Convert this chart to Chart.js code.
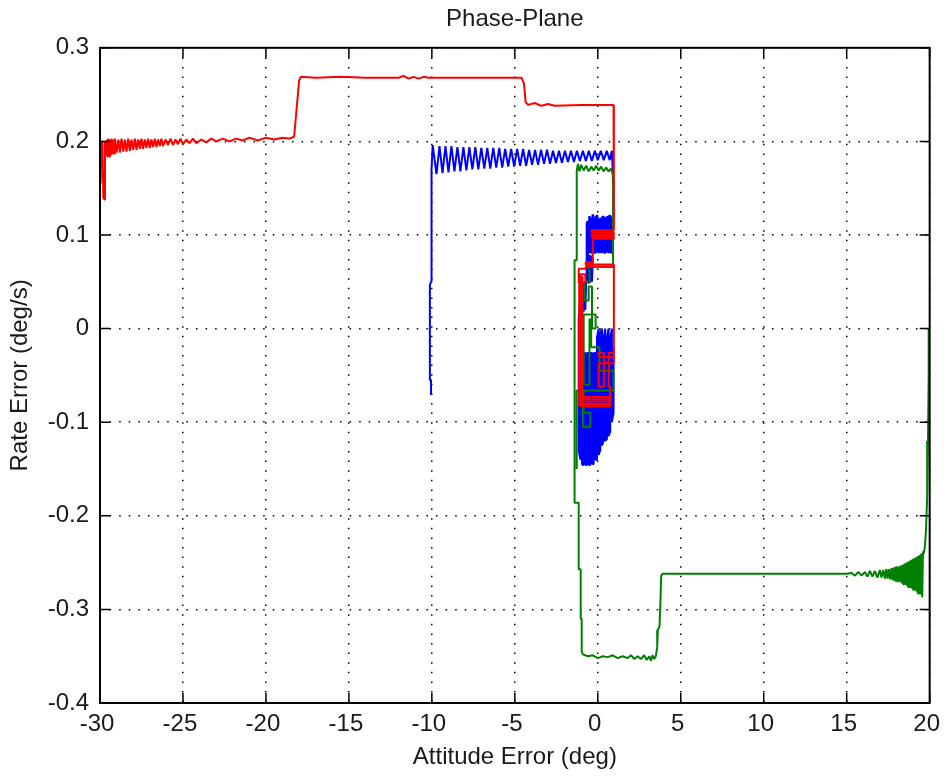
<!DOCTYPE html>
<html>
<head>
<meta charset="utf-8">
<script src="https://cdn.jsdelivr.net/npm/chart.js@4/dist/chart.umd.min.js"></script>
<style>
  html, body { margin: 0; padding: 0; background: #fff; }
  #wrap { width: 950px; height: 778px; }
</style>
</head>
<body>
<div id="wrap"><canvas id="phase" width="950" height="778"></canvas></div>
<script>
// axis limits / ticks
const xRange = [-30, 20]
const yRange = [-0.4, 0.3]
const xStep = 5
const yStep = 0.1

// [attitude error (deg), rate error (deg/s)]
const redPts = [
  [-29.98,0.2],[-29.96,0.155],[-29.93,0.2],[-29.85,0.2],[-29.8,0.14],[-29.75,0.138],[-29.7,0.2],
  [-29.65,0.185],[-29.6,0.202],[-29.55,0.183],[-29.5,0.203],[-29.45,0.184],[-29.4,0.202],[-29.35,0.185],
  [-29.3,0.203],[-29.25,0.186],[-29.2,0.202],[-29.15,0.187],[-29.1,0.203],[-29.0,0.188],[-28.9,0.202],
  [-28.8,0.188],[-28.7,0.203],[-28.6,0.189],[-28.5,0.202],[-28.4,0.189],[-28.3,0.203],[-28.2,0.19],
  [-28.1,0.202],[-28.0,0.191],[-27.9,0.203],[-27.8,0.191],[-27.7,0.202],[-27.6,0.192],[-27.5,0.203],
  [-27.4,0.192],[-27.3,0.202],[-27.2,0.193],[-27.1,0.203],[-27.0,0.193],[-26.9,0.202],[-26.8,0.194],
  [-26.7,0.203],[-26.6,0.194],[-26.5,0.202],[-26.4,0.195],[-26.3,0.203],[-26.2,0.195],[-26.05,0.202],
  [-25.9,0.196],[-25.75,0.203],[-25.6,0.196],[-25.45,0.202],[-25.3,0.197],[-25.15,0.203],[-25.0,0.197],
  [-24.8,0.202],[-24.6,0.198],[-24.4,0.203],[-24.2,0.198],[-23.9,0.202],[-23.6,0.199],[-23.3,0.203],
  [-23.0,0.2],[-22.6,0.203],[-22.2,0.2],[-21.8,0.203],[-21.4,0.201],[-21.0,0.204],[-20.5,0.201],
  [-20.0,0.204],[-19.5,0.202],[-19.0,0.204],[-18.6,0.203],[-18.3,0.205],
  [-18.15,0.235],[-18.0,0.265],[-17.9,0.269],[-17.0,0.268],[-15.5,0.269],[-14.0,0.268],[-12.0,0.268],
  [-11.7,0.27],[-11.4,0.267],[-11.1,0.269],[-10.8,0.267],[-10.5,0.269],[-10.2,0.268],[-8,0.268],
  [-6,0.268],[-4.6,0.268],[-4.45,0.262],[-4.35,0.242],[-4.2,0.239],[-3.8,0.241],[-3.4,0.238],
  [-3.0,0.24],[-2.6,0.238],[-1,0.239],[0.95,0.239],[0.97,0.2],
  [0.97,0.105],[-0.37,0.105],[-0.37,0.1025],[0.97,0.1025],[0.97,0.1],[-0.37,0.1],[-0.37,0.098],
  [0.97,0.098],[0.97,0.096],[-0.3,0.096],[-0.3,0.071],[-0.73,0.071],[-0.73,0.0685],[0.97,0.0685],
  [0.97,0.066],[-0.73,0.066],[-0.73,0.064],[-1.15,0.064],[-1.15,0.049],[-0.75,0.049],[-0.75,0.058],
  [-1.12,0.058],[-1.12,-0.082],[-1.07,-0.082],[-1.07,0.058],[-1.02,0.058],[-1.02,-0.082],
  [-0.97,-0.082],[-0.97,0.055],[-0.92,0.055],[-0.92,-0.073],[0.78,-0.073],
  [0.78,-0.0755],[-1.1,-0.0755],[-1.1,-0.078],[0.78,-0.078],[0.78,-0.0805],[-1.1,-0.0805],[-1.1,-0.083],
  [0.75,-0.083],[0.75,-0.062],[0.66,-0.062],[0.66,-0.026],[0.97,-0.026],[0.97,-0.037],[0.05,-0.037],
  [0.05,-0.062],[0.36,-0.062],[0.36,-0.026],[0.06,-0.026],[0.06,-0.03],[0.97,-0.03],[0.97,0.066]
]

const greenPts = [
  [19.95,0.0],[19.94,-0.05],[19.9,-0.12],[19.85,-0.18],[19.78,-0.215],[19.72,-0.232],[19.65,-0.24],
  [19.6,-0.238],[19.55,-0.287],[19.5,-0.24],[19.45,-0.284],[19.4,-0.242],[19.35,-0.283],[19.3,-0.243],
  [19.25,-0.282],[19.2,-0.244],[19.15,-0.28],[19.1,-0.245],[19.05,-0.279],[19.0,-0.246],[18.95,-0.278],
  [18.9,-0.247],[18.85,-0.277],[18.8,-0.248],[18.75,-0.276],[18.7,-0.249],[18.65,-0.275],[18.6,-0.25],
  [18.55,-0.274],[18.5,-0.251],[18.45,-0.273],[18.4,-0.252],[18.33,-0.272],[18.26,-0.253],[18.19,-0.271],
  [18.12,-0.254],[18.05,-0.271],[17.98,-0.254],[17.91,-0.27],[17.84,-0.255],[17.77,-0.269],[17.7,-0.256],
  [17.62,-0.268],[17.54,-0.257],[17.46,-0.267],[17.38,-0.257],[17.3,-0.267],[17.2,-0.258],[17.1,-0.266],
  [17.0,-0.258],[16.85,-0.266],[16.7,-0.259],[16.55,-0.265],[16.4,-0.259],[16.25,-0.265],[16.1,-0.26],
  [15.9,-0.264],[15.7,-0.26],[15.5,-0.264],[15.3,-0.261],[15.0,-0.262],[3.9,-0.262],[3.82,-0.264],
  [3.78,-0.29],[3.72,-0.318],[3.62,-0.322],[3.58,-0.34],[3.5,-0.35],[3.4,-0.353],[3.3,-0.349],
  [3.2,-0.355],[3.1,-0.35],[2.95,-0.354],[2.8,-0.349],[2.6,-0.353],[2.4,-0.35],[2.2,-0.353],
  [2.0,-0.349],[1.8,-0.352],[1.5,-0.35],[1.2,-0.352],[0.9,-0.349],[0.6,-0.351],[0.3,-0.35],
  [0.0,-0.352],[-0.3,-0.349],[-0.6,-0.35],[-0.9,-0.348],[-0.97,-0.345],[-0.97,-0.31],[-1.03,-0.31],
  [-1.03,-0.257],[-1.15,-0.257],[-1.15,-0.186],[-1.4,-0.186],[-1.4,0.073],[-1.27,0.073],[-1.27,0.168],
  [-1.2,0.176],[-1.1,0.168],[-1.0,0.175],[-0.85,0.169],[-0.7,0.174],[-0.55,0.168],[-0.4,0.173],
  [-0.25,0.169],[-0.1,0.174],[0.05,0.169],[0.2,0.173],[0.35,0.168],[0.5,0.172],[0.65,0.168],
  [0.8,0.171],[0.9,0.165],[0.92,0.15],[0.92,0.066],[-0.5,0.066],[-0.5,0.05],[-0.8,0.05],[-0.8,0.03],
  [-0.55,0.03],[-0.55,0.045],[-0.35,0.045],[-0.35,0.0],[-0.13,0.0],[-0.13,0.015],[-0.85,0.015],
  [-0.85,-0.06],[-0.5,-0.06],[-0.5,0.01],[-0.4,0.01],[-0.4,-0.02],[0.1,-0.02],[0.1,-0.045],
  [0.95,-0.045],[0.95,-0.066],[-0.9,-0.066],[-0.9,-0.105],[-0.45,-0.105],[-0.45,-0.09],[-0.85,-0.09],
  [-0.85,-0.066],[-1.27,-0.066],[-1.27,-0.15]
]

const bluePts = [
  [-10.05,-0.071],[-10.05,-0.055],[-10.12,-0.055],[-10.12,0.046],[-10.05,0.05],[-10.02,0.17],
  [-9.95,0.196],[-9.72,0.165],[-9.54,0.195],[-9.36,0.166],[-9.18,0.195],[-9.0,0.167],[-8.82,0.195],
  [-8.64,0.168],[-8.46,0.194],[-8.28,0.168],[-8.1,0.194],[-7.92,0.169],[-7.74,0.194],[-7.56,0.17],
  [-7.38,0.194],[-7.2,0.17],[-7.02,0.193],[-6.84,0.171],[-6.66,0.193],[-6.48,0.171],[-6.3,0.193],
  [-6.12,0.172],[-5.94,0.193],[-5.76,0.172],[-5.58,0.192],[-5.4,0.173],[-5.22,0.192],[-5.04,0.173],
  [-4.86,0.192],[-4.68,0.174],[-4.5,0.192],[-4.32,0.174],[-4.14,0.191],[-3.96,0.175],[-3.78,0.191],
  [-3.6,0.175],[-3.42,0.191],[-3.24,0.176],[-3.06,0.191],[-2.88,0.176],[-2.7,0.19],[-2.52,0.177],
  [-2.34,0.19],[-2.16,0.177],[-1.98,0.19],[-1.8,0.178],[-1.62,0.19],[-1.44,0.178],[-1.26,0.19],
  [-1.08,0.179],[-0.9,0.19],[-0.72,0.179],[-0.54,0.19],[-0.36,0.179],[-0.18,0.19],[0.0,0.18],
  [0.18,0.19],[0.36,0.18],[0.54,0.19],[0.72,0.18],[0.85,0.19],[0.9,0.17],[0.95,0.155],[0.95,0.12],
  [0.9,0.118],[0.88,0.081],[0.8,0.081],[0.78,0.12],[0.7,0.121],[0.68,0.081],[0.6,0.082],[0.58,0.12],
  [0.5,0.118],[0.48,0.081],[0.4,0.081],[0.38,0.119],[0.3,0.12],[0.28,0.082],[0.2,0.081],[0.18,0.118],
  [0.1,0.117],[0.08,0.081],[0.0,0.082],[-0.02,0.121],[-0.1,0.12],[-0.12,0.081],[-0.2,0.081],
  [-0.22,0.118],[-0.3,0.122],[-0.32,0.081],[-0.4,0.081],[-0.42,0.117],[-0.5,0.12],[-0.52,0.081],
  [-0.6,0.081],[-0.62,0.115],[-0.67,0.112],[-0.67,0.05],[-0.6,0.08],[-0.55,0.048],[-0.5,0.079],
  [-0.45,0.049],[-0.4,0.078],[-0.35,0.05],[-0.3,0.076],[-0.7,0.05],[-0.75,0.02],[-0.8,0.05],
  [-0.85,0.018],[-0.9,0.048],[-0.95,0.015],[-1.0,0.04],
  [-1.15,0.01],[-1.15,-0.13],[-1.05,-0.14],[-1.05,0.02],[-0.95,0.0],[-0.95,-0.145],[-0.85,-0.146],
  [-0.85,-0.026],[-0.75,-0.026],[-0.75,-0.145],[-0.65,-0.146],[-0.65,-0.026],[-0.55,-0.026],
  [-0.55,-0.145],[-0.45,-0.146],[-0.45,-0.026],[-0.35,-0.026],[-0.35,-0.144],[-0.25,-0.145],
  [-0.25,-0.026],[-0.15,-0.026],[-0.15,-0.14],[-0.05,-0.14],[-0.05,-0.01],[0.05,0.0],[0.05,-0.135],
  [0.15,-0.13],[0.15,-0.005],[0.25,0.0],[0.25,-0.125],[0.35,-0.12],[0.35,-0.01],[0.45,0.0],
  [0.45,-0.12],[0.55,-0.118],[0.55,-0.01],[0.65,0.0],[0.65,-0.115],[0.75,-0.11],[0.75,-0.01],
  [0.85,0.0],[0.85,-0.1],[0.95,-0.09],[0.95,-0.02]
]

const toXY = pts => pts.map(p => ({ x: p[0], y: p[1] }))
const FONT = "'Liberation Sans', Arial, Helvetica, sans-serif"

// matlab style box with ticks pointing inwards
const matlabBox = {
  id: 'matlabBox',
  afterDatasetsDraw(chart) {
    const { ctx, chartArea: a, scales } = chart
    const len = 10
    ctx.save()
    ctx.strokeStyle = '#000'
    ctx.lineWidth = 1.5
    ctx.beginPath()
    scales.x.ticks.forEach(t => {
      const px = scales.x.getPixelForValue(t.value)
      ctx.moveTo(px, a.bottom); ctx.lineTo(px, a.bottom - len)
      ctx.moveTo(px, a.top); ctx.lineTo(px, a.top + len)
    })
    scales.y.ticks.forEach(t => {
      const py = scales.y.getPixelForValue(t.value)
      ctx.moveTo(a.left, py); ctx.lineTo(a.left + len, py)
      ctx.moveTo(a.right, py); ctx.lineTo(a.right - len, py)
    })
    ctx.stroke()
    ctx.lineWidth = 2
    ctx.strokeRect(a.left, a.top, a.right - a.left, a.bottom - a.top)
    ctx.restore()
  }
}

const ctx = document.getElementById('phase')
new Chart(ctx, {
  type: 'scatter',
  data: {
    datasets: [
      { data: toXY(redPts), borderColor: '#ff0000', backgroundColor: '#ff0000' },
      { data: toXY(greenPts), borderColor: '#008000', backgroundColor: '#008000' },
      { data: toXY(bluePts), borderColor: '#0000ff', backgroundColor: '#0000ff' }
    ]
  },
  options: {
    responsive: false,
    animation: false,
    devicePixelRatio: 1,
    datasets: {
      scatter: {
        showLine: true, pointRadius: 0, borderWidth: 2, tension: 0,
        borderJoinStyle: 'bevel', borderCapStyle: 'butt'
      }
    },
    layout: { padding: { left: 0, right: 18, top: 0, bottom: 0 } },
    plugins: {
      legend: { display: false },
      tooltip: { enabled: false },
      title: {
        display: true,
        text: 'Phase-Plane',
        fullSize: false,
        color: '#1a1a1a',
        font: { family: FONT, size: 24, weight: 'normal' },
        padding: { top: 5, bottom: 14 }
      }
    },
    scales: {
      x: {
        min: xRange[0], max: xRange[1],
        afterFit: s => { s.height = 75 },
        ticks: {
          stepSize: xStep, autoSkip: false, maxRotation: 0, padding: 7, labelOffset: -3,
          color: '#1a1a1a', font: { family: FONT, size: 24 }
        },
        grid: { color: '#000', lineWidth: 1.5, drawTicks: false },
        border: { display: false, dash: [1.5, 8.1] },
        title: {
          display: true, text: 'Attitude Error (deg)', color: '#1a1a1a',
          font: { family: FONT, size: 24 }, padding: { top: 0, bottom: 6 }
        }
      },
      y: {
        min: yRange[0], max: yRange[1],
        afterFit: s => { s.width = 100 },
        ticks: {
          stepSize: yStep, autoSkip: false, padding: 11,
          color: '#1a1a1a', font: { family: FONT, size: 24 },
          callback: v => String(Number(v.toFixed(1)))
        },
        grid: { color: '#000', lineWidth: 1.5, drawTicks: false },
        border: { display: false, dash: [1.5, 8.1] },
        title: {
          display: true, text: 'Rate Error (deg/s)', color: '#1a1a1a',
          font: { family: FONT, size: 24 }, padding: { top: 6, bottom: 0 }
        }
      }
    }
  },
  plugins: [matlabBox]
})
</script>
</body>
</html>
